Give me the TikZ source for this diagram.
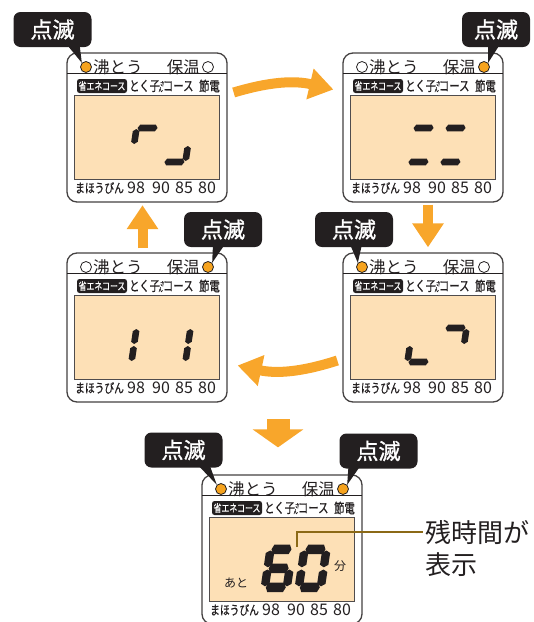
\documentclass[tikz,border=0pt]{standalone}
\usepackage{fontspec}
\setmainfont{Noto Sans CJK JP}
\newfontfamily\jpnarrow[FakeStretch=0.75, FakeBold=0.6]{Noto Sans CJK JP}
\newfontfamily\jpbold[FakeBold=1.2]{Noto Sans CJK JP}
\usetikzlibrary{arrows.meta, positioning}

\definecolor{arrowc}{RGB}{248,166,43}
\definecolor{lampc}{RGB}{246,163,30}
\definecolor{lcdc}{RGB}{253,224,182}
\definecolor{leaderc}{RGB}{139,105,22}
\definecolor{inkc}{RGB}{35,31,32}

\tikzset{
  panel/.style={draw=inkc!85, line width=1.3pt, rounded corners=10pt, minimum width=160pt, minimum height=149pt, inner sep=0},
  lamp/.style={circle, draw=inkc, fill=#1, line width=0.8pt, minimum size=11pt, inner sep=0},
  lcd/.style={fill=lcdc, draw=inkc!80, line width=1pt},
  toptext/.style={font=\fontsize{16.5}{18}\selectfont, text=inkc, inner sep=0},
  rowtext/.style={font=\jpnarrow\fontsize{13}{14}\selectfont, text=inkc, inner sep=0},
  coursetext/.style={font=\jpnarrow\fontsize{13.8}{15}\selectfont, text=inkc, inner sep=0},
  numtext/.style={font=\fontsize{16}{16}\selectfont, text=inkc, inner sep=0},
  smalltext/.style={font=\fontsize{12}{12}\selectfont, text=inkc, inner sep=0},
  ecobox/.style={fill=inkc, text=white, rounded corners=2.5pt, inner sep=0, minimum width=50pt, minimum height=14pt, font=\jpnarrow\fontsize{10.5}{11}\selectfont},
  badge/.style={fill=inkc, text=white, rounded corners=7pt, minimum width=78pt, minimum height=35pt, inner sep=0, font=\jpbold\fontsize{22}{22}\selectfont},
  msg/.style={font=\fontsize{26}{32}\selectfont, text=inkc, align=left, inner sep=2pt},
  flow/.style={draw=arrowc, line width=10pt, -{Triangle[width=30pt,length=24pt]}},
  bigflow/.style={draw=arrowc, line width=23pt, -{Triangle[width=50pt,length=18pt]}},
  leader/.style={draw=leaderc, line width=1.8pt}
}

% seven segment pieces
\newcommand\segh{3.3}
\newcommand\segb{2.2}
\newcommand\hseg[3]{\fill[inkc] (#1,#3) -- ({#1+\segb},{#3-\segh}) -- ({#2-\segb},{#3-\segh}) -- (#2,#3) -- ({#2-\segb},{#3+\segh}) -- ({#1+\segb},{#3+\segh}) -- cycle;}
\newcommand\vseg[3]{\fill[inkc] (#1,#2) -- ({#1+\segh},{#2+\segb}) -- ({#1+\segh},{#3-\segb}) -- (#1,#3) -- ({#1-\segh},{#3-\segb}) -- ({#1-\segh},{#2+\segb}) -- cycle;}
\newcommand\lcdsega{\hseg{4}{24}{3}}
\newcommand\lcdsegb{\vseg{25}{4}{19}}
\newcommand\lcdsegc{\vseg{25}{21}{36}}
\newcommand\lcdsegd{\hseg{4}{24}{37}}
\newcommand\lcdsege{\vseg{3}{21}{36}}
\newcommand\lcdsegf{\vseg{3}{4}{19}}
\newcommand\lcdsegg{\hseg{4}{24}{20}}
\newcommand\lcddigit[3]{%
  \begin{scope}[shift={#1}, xslant=0.15, #2]
    \foreach \s in {#3} {\csname lcdseg\s\endcsname}
  \end{scope}}

% one display: name, top left corner, left lamp, right lamp, lcd contents
\newcommand\lcdpanel[5]{%
  \begin{scope}[shift={#2}]
    \node[panel] (#1) at (80,74.5) {};
    \draw[inkc, line width=0.9pt] (0,20) -- (160,20);
    \node[lamp=#3] (#1l) at (19,14) {};
    \node[toptext, anchor=west] (#1a) at (26,14) {沸とう};
    \node[toptext, anchor=east] (#1b) at (133,14) {保温};
    \node[lamp=#4] (#1r) at (141,14) {};
    \node[ecobox] (#1e) at (35,33) {省エネコース};
    \node[coursetext, anchor=west] (#1k) at (62,33) {とく子\raisebox{5pt}{\fontsize{6}{6}\selectfont さ}\kern-6pt\raisebox{-1pt}{\fontsize{6}{6}\selectfont ん}コース};
    \node[coursetext, anchor=east] (#1s) at (153,33) {節電};
    \draw[lcd] (7,42) rectangle (152,126);
    \node[rowtext, anchor=west] (#1m) at (8,135) {まほうびん};
    \foreach \lbl/\xx in {98/69, 90/94, 85/117, 80/140}
      \node[numtext] (#1n\lbl) at (\xx,135) {\lbl};
    #5
  \end{scope}}

\begin{document}
\begin{tikzpicture}[x=1pt, y=-1pt]
\useasboundingbox (0,0) rectangle (534,622);

% displays
\lcdpanel{p1}{(67,53)}{lampc}{white}{\lcddigit{(67,72)}{}{a,f}\lcddigit{(99,72)}{}{c,d}}
\lcdpanel{p2}{(343,53)}{white}{lampc}{\lcddigit{(67,72)}{}{a,d}\lcddigit{(99,72)}{}{a,d}}
\lcdpanel{p3}{(67,253)}{white}{lampc}{\lcddigit{(67,72)}{}{e,f}\lcddigit{(99,72)}{}{b,c}}
\lcdpanel{p4}{(343,253)}{lampc}{white}{\lcddigit{(67,72)}{}{d,e}\lcddigit{(99,72)}{}{a,b}}
\lcdpanel{p5}{(202,475)}{lampc}{lampc}{%
  \def\segh{4.2}%
  \lcddigit{(66,71)}{yscale=1.12}{a,c,d,e,f,g}\lcddigit{(100,71)}{yscale=1.12}{a,b,c,d,e,f}%
  \node[smalltext] (p5t) at (34,108) {あと};
  \node[smalltext] (p5u) at (138,91) {分};
  \coordinate (ptr) at (95,72);}

% blinking labels
\node[badge] (b1) at (52.5,29.5) {点滅};
\node[badge, minimum width=68pt] (b2) at (496,29.5) {点滅};
\node[badge] (b3) at (223,229.5) {点滅};
\node[badge] (b4) at (354,229.5) {点滅};
\node[badge] (b5) at (183.5,450) {点滅};
\node[badge] (b6) at (378.5,451) {点滅};
\fill[inkc] ([xshift=14pt,yshift=3pt]b1.south) -- ([xshift=27pt,yshift=3pt]b1.south) -- (p1l.north west);
\fill[inkc] ([xshift=-8pt,yshift=3pt]b2.south) -- ([xshift=4pt,yshift=3pt]b2.south) -- (p2r.north east);
\fill[inkc] ([xshift=-10pt,yshift=3pt]b3.south) -- ([xshift=2pt,yshift=3pt]b3.south) -- (p3r.north east);
\fill[inkc] ([xshift=-4pt,yshift=3pt]b4.south) -- ([xshift=8pt,yshift=3pt]b4.south) -- (p4l.north west);
\fill[inkc] ([xshift=14pt,yshift=3pt]b5.south) -- ([xshift=26pt,yshift=3pt]b5.south) -- (p5l.north west);
\fill[inkc] ([xshift=-30pt,yshift=3pt]b6.south) -- ([xshift=-18pt,yshift=3pt]b6.south) -- (p5r.north east);

% order of the displays
\draw[flow] ([xshift=6pt,yshift=35pt]p1.east) to[bend left=15] ([xshift=-9pt,yshift=38pt]p2.west);
\draw[flow] ([xshift=5pt,yshift=-2pt]p2.south) -- ([xshift=5pt,yshift=5pt]p4.north);
\draw[flow] ([xshift=-5pt,yshift=-33pt]p4.west) to[bend left=15] ([xshift=10pt,yshift=-38pt]p3.east);
\draw[flow] ([xshift=-4.5pt,yshift=4pt]p3.north) -- ([xshift=-4.5pt,yshift=-2.5pt]p1.south);
\coordinate (drop) at (278,419);
\draw[bigflow] (drop) -- ([xshift=-4pt,yshift=27pt]p5.north);

% remaining time
\node[msg, anchor=west] (msg) at (423,548) {残時間が\\表示};
\draw[leader] (ptr) |- ([yshift=16pt]msg.west);
\end{tikzpicture}
\end{document}
